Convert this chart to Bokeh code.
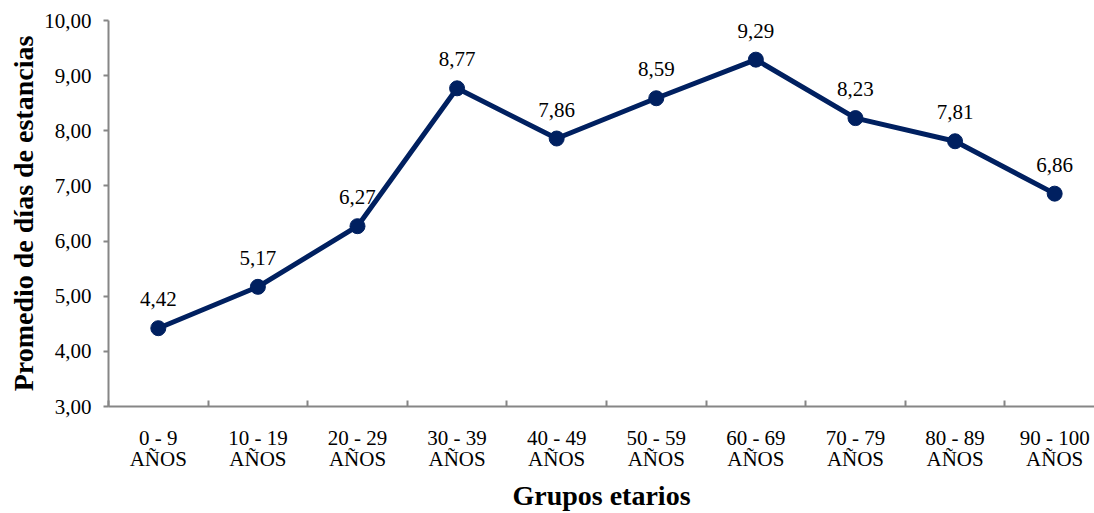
from bokeh.plotting import figure
from bokeh.models import ColumnDataSource, FixedTicker, CustomJSTickFormatter, Range1d, LinearAxis
from bokeh.core.properties import value
from bokeh.embed import file_html
from bokeh.resources import INLINE

age_ranges = ["0 - 9", "10 - 19", "20 - 29", "30 - 39", "40 - 49",
              "50 - 59", "60 - 69", "70 - 79", "80 - 89", "90 - 100"]
unit_label = "AÑOS"
values = [4.42, 5.17, 6.27, 8.77, 7.86, 8.59, 9.29, 8.23, 7.81, 6.86]
y_ticks = [3, 4, 5, 6, 7, 8, 9, 10]

xs = list(range(len(age_ranges)))
labels = [f"{v:.2f}".replace(".", ",") for v in values]
src = ColumnDataSource(dict(x=xs, y=values, lab=labels))

FONT = "Liberation Serif"
NAVY = "#002060"
GRAY = "#868686"

p = figure(width=1094, height=513, output_backend="svg", toolbar_location=None,
           x_range=Range1d(-0.5, 9.4), y_range=Range1d(3, 10),
           min_border_left=108, min_border_right=0, min_border_top=20, min_border_bottom=107)
p.outline_line_color = None
p.xgrid.visible = False
p.ygrid.visible = False

p.line("x", "y", source=src, line_color=NAVY, line_width=5)
p.scatter("x", "y", source=src, size=15, fill_color=NAVY, line_color=NAVY)
p.text("x", "y", text="lab", source=src, text_align="center", text_baseline="alphabetic",
       y_offset=-29, text_font=value(FONT), text_font_size="21px", text_color="#000000")

# x axis: first label line + boundary ticks
xa = p.xaxis[0]
xa.ticker = FixedTicker(ticks=xs, minor_ticks=[i + 0.5 for i in range(-1, len(age_ranges))])
xa.formatter = CustomJSTickFormatter(args=dict(labels=age_ranges),
                                     code="return labels[Math.round(tick)];")
xa.major_tick_line_color = None
xa.minor_tick_in = 6
xa.minor_tick_out = 0
xa.minor_tick_line_color = GRAY
xa.minor_tick_line_width = 2
xa.axis_line_color = GRAY
xa.axis_line_width = 2
xa.major_label_text_font = FONT
xa.major_label_text_font_size = "21px"
xa.major_label_text_color = "#000000"
xa.major_label_standoff = 13

# second line of category labels + axis title
xa2 = LinearAxis(ticker=FixedTicker(ticks=xs),
                 formatter=CustomJSTickFormatter(args=dict(u=unit_label), code="return u;"))
xa2.axis_line_color = None
xa2.major_tick_line_color = None
xa2.minor_tick_line_color = None
xa2.major_label_text_font = FONT
xa2.major_label_text_font_size = "21px"
xa2.major_label_text_color = "#000000"
xa2.major_label_standoff = -12
xa2.axis_label = "Grupos etarios"
xa2.axis_label_text_font = FONT
xa2.axis_label_text_font_size = "28px"
xa2.axis_label_text_font_style = "bold"
xa2.axis_label_text_color = "#000000"
xa2.axis_label_standoff = 6
p.add_layout(xa2, "below")

# y axis
ya = p.yaxis[0]
ya.ticker = FixedTicker(ticks=y_ticks)
ya.formatter = CustomJSTickFormatter(code="return tick.toFixed(2).replace('.', ',');")
ya.major_tick_in = 0
ya.major_tick_out = 5
ya.major_tick_line_color = GRAY
ya.major_tick_line_width = 2
ya.minor_tick_line_color = None
ya.axis_line_color = GRAY
ya.axis_line_width = 2
ya.major_label_text_font = FONT
ya.major_label_text_font_size = "21px"
ya.major_label_text_color = "#000000"
ya.major_label_standoff = 12
ya.axis_label = "Promedio de días de estancias"
ya.axis_label_text_font = FONT
ya.axis_label_text_font_size = "28px"
ya.axis_label_text_font_style = "bold"
ya.axis_label_text_color = "#000000"
ya.axis_label_standoff = 2

open("out.html", "w").write(file_html(p, INLINE))
